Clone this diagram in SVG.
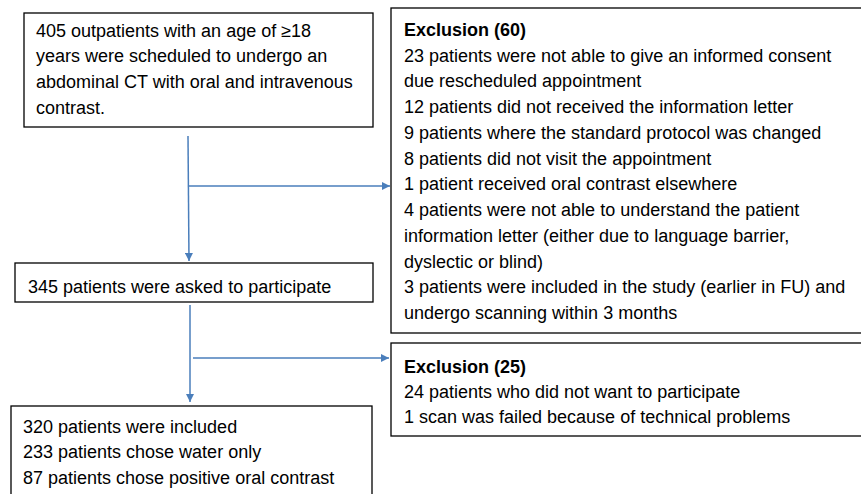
<svg xmlns="http://www.w3.org/2000/svg" width="861" height="494" viewBox="0 0 861 494">
<style>
.box{fill:#fff;stroke:#000;stroke-width:1.3}
.t{font-family:"Liberation Sans",Arial,sans-serif;font-size:18px;fill:#000}
.b{font-weight:bold}
.c{stroke:#4a7ebb;stroke-width:1.5;fill:none}
</style>
<defs>
<marker id="ah" viewBox="0 0 10 10" refX="10" refY="5" markerWidth="8" markerHeight="8" markerUnits="userSpaceOnUse" orient="auto">
<path d="M0,0 L10,5 L0,10 z" fill="#4a7ebb"/>
</marker>
</defs>
<rect width="861" height="494" fill="#fff"/>
<g id="connectors">
<line class="c" x1="188" y1="136" x2="189" y2="261" marker-end="url(#ah)"/>
<line class="c" x1="188" y1="186" x2="390" y2="186" marker-end="url(#ah)"/>
<line class="c" x1="190" y1="305" x2="190" y2="402" marker-end="url(#ah)"/>
<line class="c" x1="193" y1="358" x2="389" y2="358" marker-end="url(#ah)"/>
</g>
<g id="n1">
<rect class="box" x="24" y="13" width="349" height="114"/>
<text class="t" x="36" y="37">405 outpatients with an age of ≥18</text>
<text class="t" x="36" y="62">years were scheduled to undergo an</text>
<text class="t" x="36" y="88">abdominal CT with oral and intravenous</text>
<text class="t" x="36" y="114">contrast.</text>
</g>
<g id="n2">
<rect class="box" x="391" y="8" width="480" height="325"/>
<text class="t b" x="404" y="36">Exclusion (60)</text>
<text class="t" x="404" y="62">23 patients were not able to give an informed consent</text>
<text class="t" x="404" y="87">due rescheduled appointment</text>
<text class="t" x="404" y="113">12 patients did not received the information letter</text>
<text class="t" x="404" y="139">9 patients where the standard protocol was changed</text>
<text class="t" x="404" y="165">8 patients did not visit the appointment</text>
<text class="t" x="404" y="190">1 patient received oral contrast elsewhere</text>
<text class="t" x="404" y="216">4 patients were not able to understand the patient</text>
<text class="t" x="404" y="242">information letter (either due to language barrier,</text>
<text class="t" x="404" y="268">dyslectic or blind)</text>
<text class="t" x="404" y="293">3 patients were included in the study (earlier in FU) and</text>
<text class="t" x="404" y="319">undergo scanning within 3 months</text>
</g>
<g id="n3">
<rect class="box" x="15" y="263" width="358" height="39"/>
<text class="t" x="28" y="293">345 patients were asked to participate</text>
</g>
<g id="n4">
<rect class="box" x="391" y="343" width="480" height="93"/>
<text class="t b" x="404" y="373">Exclusion (25)</text>
<text class="t" x="404" y="398">24 patients who did not want to participate</text>
<text class="t" x="404" y="423">1 scan was failed because of technical problems</text>
</g>
<g id="n5">
<rect class="box" x="11" y="406" width="361" height="100"/>
<text class="t" x="23" y="433">320 patients were included</text>
<text class="t" x="23" y="458">233 patients chose water only</text>
<text class="t" x="23" y="484">87 patients chose positive oral contrast</text>
</g>
</svg>
